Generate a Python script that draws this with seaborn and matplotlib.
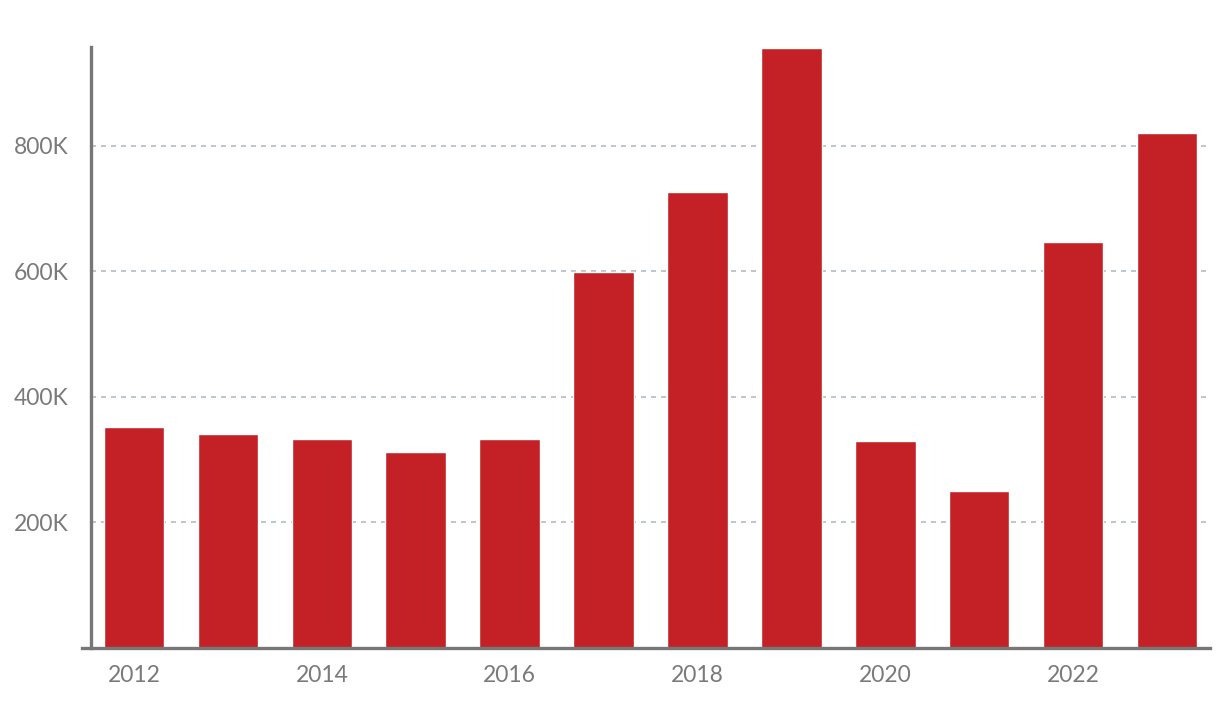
import matplotlib
matplotlib.use("Agg")
import matplotlib.pyplot as plt
import seaborn as sns
import pandas as pd
from matplotlib.ticker import FuncFormatter

years = [2012, 2013, 2014, 2015, 2016, 2017, 2018, 2019, 2020, 2021, 2022, 2023]
values = [352000, 340000, 332000, 312000, 332000, 599000, 726000, 956000, 329000, 249000, 646000, 820000]
ytick_values = [200000, 400000, 600000, 800000]
xtick_labels = ["2012", "2014", "2016", "2018", "2020", "2022"]

BAR = "#C42127"
AXIS = "#777777"
GRID = "#B0BCC4"
TEXT = "#7A7A7A"

sns.set_theme(style="white")
plt.rcParams['font.family'] = ['Lato', 'DejaVu Sans']

df = pd.DataFrame({"year": [str(y) for y in years], "value": values})

fig = plt.figure(figsize=(12.2, 7.02), dpi=100)
ax = fig.add_axes([91 / 1220, 54.5 / 702, (1210 - 91) / 1220, 601 / 702])

sns.barplot(data=df, x="year", y="value", color=BAR, saturation=1, width=0.645, ax=ax, zorder=3)

ax.set_xlim(-0.458, len(years) - 1 + 0.458)
ax.set_ylim(0, 958200)

ax.set_yticks(ytick_values)
ax.yaxis.set_major_formatter(FuncFormatter(lambda v, p: f"{int(v/1000)}K"))
tick_pos = [years.index(int(l)) for l in xtick_labels]
ax.set_xticks(tick_pos)
ax.set_xticklabels(xtick_labels)

ax.set_xlabel("")
ax.set_ylabel("")

ax.grid(axis="y", color=GRID, linestyle=(0, (3, 3)), linewidth=1.2, zorder=0)
ax.grid(axis="x", visible=False)

for s in ["top", "right"]:
    ax.spines[s].set_visible(False)
for s in ["left", "bottom"]:
    ax.spines[s].set_color(AXIS)
    ax.spines[s].set_linewidth(2.4)
    ax.spines[s].set_zorder(4)
ax.spines["bottom"].set_bounds(-0.55, len(years) - 1 + 0.458)

ax.tick_params(axis="y", colors=AXIS, length=7, width=2.2, direction="out", pad=9,
               labelsize=16.5, labelcolor=TEXT)
ax.tick_params(axis="x", length=0, pad=12.5, labelsize=16.5, labelcolor=TEXT)

fig.savefig("out.png", dpi=100, facecolor="white")
